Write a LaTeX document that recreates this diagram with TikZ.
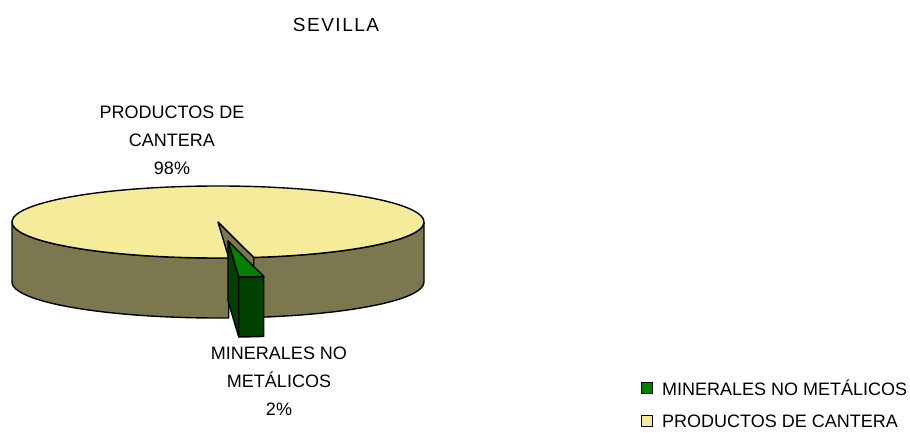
\documentclass[tikz,border=0pt]{standalone}
\usepackage{fontspec}
\setmainfont{Liberation Sans}
\newfontfamily\titlefont[LetterSpace=8]{Liberation Sans}
\usetikzlibrary{positioning}
\definecolor{cantera}{RGB}{245,236,155}
\definecolor{canteraside}{RGB}{123,120,80}
\definecolor{mineral}{RGB}{0,128,0}
\definecolor{mineraldark}{RGB}{0,64,0}
\tikzset{
  pieline/.style={draw=black, line width=1.4pt, line join=round},
  pielabel/.style={align=center, font=\fontsize{18}{28}\selectfont, inner sep=0pt},
  legendbox/.style={draw=black, line width=1pt, minimum size=11pt, inner sep=0pt},
  legendtext/.style={font=\fontsize{18}{20}\selectfont, inner sep=0pt, anchor=west}
}
\begin{document}
\begin{tikzpicture}[x=1pt,y=1pt]
    \useasboundingbox (0,0) rectangle (910,432);
    %Title
    \node[font=\titlefont\fontsize{19}{20}\selectfont] (title) at (336,407) {SEVILLA};
    %Cut wall of the big slice
    \filldraw[pieline, fill=canteraside, shift={(218,210)}] (0,0) -- (280:206pt and 36pt) -- ++(0,-60) -- (0,-60) -- cycle;
    %Side, left part
    \filldraw[pieline, fill=canteraside] (12,210) -- (12,150) arc[start angle=180, end angle=273, x radius=206pt, y radius=36pt] -- ++(0,60) arc[start angle=273, end angle=180, x radius=206pt, y radius=36pt] -- cycle;
    %Side, right part
    \filldraw[pieline, fill=canteraside, shift={(218,150)}] (280:206pt and 36pt) arc[start angle=280, end angle=360, x radius=206pt, y radius=36pt] -- ++(0,60) arc[start angle=360, end angle=280, x radius=206pt, y radius=36pt] -- cycle;
    %Top of the big slice
    \filldraw[pieline, fill=cantera, shift={(218,210)}] (0,0) -- (280:206pt and 36pt) arc[start angle=280, end angle=633, x radius=206pt, y radius=36pt] -- cycle;
    %Small slice, pulled out
    \begin{scope}[shift={(228,191)}]
        \filldraw[pieline, fill=mineraldark] (0,0) -- (273:206pt and 36pt) -- ++(0,-60) -- (0,-60) -- cycle;
        \filldraw[pieline, fill=mineraldark] (273:206pt and 36pt) arc[start angle=273, end angle=280, x radius=206pt, y radius=36pt] -- ++(0,-60) arc[start angle=280, end angle=273, x radius=206pt, y radius=36pt] -- cycle;
        \filldraw[pieline, fill=mineral] (0,0) -- (273:206pt and 36pt) arc[start angle=273, end angle=280, x radius=206pt, y radius=36pt] -- cycle;
    \end{scope}
    %Labels
    \node[pielabel] (canteralabel) at (172,292) {PRODUCTOS DE\\CANTERA\\98\%};
    \node[pielabel] (minerallabel) at (279,51) {MINERALES NO\\METÁLICOS\\2\%};
    %Legend
    \node[legendtext] (mineraltext) at (662,44) {MINERALES NO METÁLICOS};
    \node[legendbox, fill=mineral, left=9pt of mineraltext] (mineralbox) {};
    \node[legendtext] (canteratext) at (662,11) {PRODUCTOS DE CANTERA};
    \node[legendbox, fill=cantera, left=9pt of canteratext] (canterabox) {};
\end{tikzpicture}
\end{document}
